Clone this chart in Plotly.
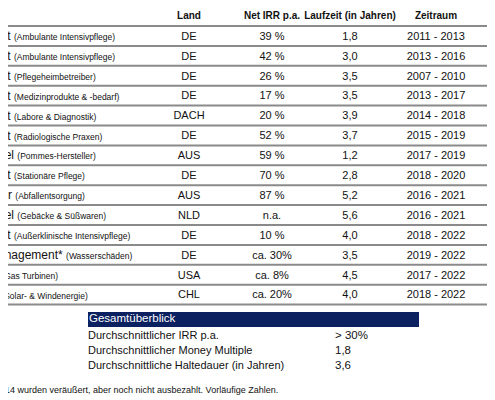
import plotly.graph_objects as go

# table data
names = ["eit", "eit", "eit", "eit", "eit", "eit", "ttel", "eit", "tur", "ttel",
         "eit", "anagement*", "", ""]
sectors = ["Ambulante Intensivpflege", "Ambulante Intensivpflege", "Pflegeheimbetreiber",
           "Medizinprodukte & -bedarf", "Labore & Diagnostik", "Radiologische Praxen",
           "Pommes-Hersteller", "Stationäre Pflege", "Abfallentsorgung",
           "Gebäcke & Süßwaren", "Außerklinische Intensivpflege", "Wasserschäden",
           "Gas Turbinen", "Solar- & Windenergie"]
land = ["DE", "DE", "DE", "DE", "DACH", "DE", "AUS", "DE", "AUS", "NLD", "DE", "DE", "USA", "CHL"]
irr = ["39 %", "42 %", "26 %", "17 %", "20 %", "52 %", "59 %", "70 %", "87 %", "n.a.",
       "10 %", "ca. 30%", "ca. 8%", "ca. 20%"]
laufzeit = ["1,8", "3,0", "3,5", "3,5", "3,9", "3,7", "1,2", "2,8", "5,2", "5,6",
            "4,0", "3,5", "4,5", "4,0"]
zeitraum = ["2011 - 2013", "2013 - 2016", "2007 - 2010", "2013 - 2017", "2014 - 2018",
            "2015 - 2019", "2017 - 2019", "2018 - 2020", "2016 - 2021", "2016 - 2021",
            "2018 - 2022", "2019 - 2022", "2017 - 2022", "2018 - 2022"]
headers = ["Land", "Net IRR p.a.", "Laufzeit (in Jahren)", "Zeitraum"]

summary_title = "Gesamtüberblick"
summary_labels = ["Durchschnittlicher IRR p.a.", "Durchschnittlicher Money Multiple",
                  "Durchschnittliche Haltedauer (in Jahren)"]
summary_values = ["> 30%", "1,8", "3,6"]
footnote = "s 14 wurden veräußert, aber noch nicht ausbezahlt. Vorläufige Zahlen."

FONT = "Liberation Sans"
OFF = 8  # page body margin
row_y = [37 + 19.9 * i for i in range(len(land))]
col_x = [189, 272, 350, 436]

fig = go.Figure()

first_col = []
for n, s in zip(names, sectors):
    lab = f"<span style='font-size:8.5px'>({s})</span>"
    first_col.append((n + " " + lab) if n else " " + lab)

fig.add_trace(go.Scatter(x=[-2] * len(row_y), y=row_y, mode="text", text=first_col,
                         textposition="middle right",
                         textfont=dict(family=FONT, size=12, color="#111")))
for cx, col in zip(col_x, [land, irr, laufzeit, zeitraum]):
    fig.add_trace(go.Scatter(x=[cx] * len(row_y), y=row_y, mode="text", text=col,
                             textposition="middle center",
                             textfont=dict(family=FONT, size=11, color="#111")))
fig.add_trace(go.Scatter(x=col_x, y=[16] * 4, mode="text",
                         text=[f"<b>{h}</b>" for h in headers],
                         textposition="middle center",
                         textfont=dict(family=FONT, size=10, color="#111")))

# row separators
for i in range(len(row_y) + 1):
    y = 26 + 19.9 * i
    fig.add_shape(type="line", x0=0, x1=500, y0=y, y1=y, layer="below",
                  line=dict(color="#8a8a8a", width=2))

# summary block
fig.add_shape(type="rect", x0=88, x1=419, y0=312, y1=327, layer="below",
              fillcolor="#0c2160", line=dict(width=0))
fig.add_trace(go.Scatter(x=[89], y=[319.5], mode="text", text=[summary_title],
                         textposition="middle right",
                         textfont=dict(family=FONT, size=11.5, color="white")))
sy = [336, 351, 366]
fig.add_trace(go.Scatter(x=[88] * 3, y=sy, mode="text", text=summary_labels,
                         textposition="middle right",
                         textfont=dict(family=FONT, size=11, color="#111")))
fig.add_trace(go.Scatter(x=[335] * 3, y=sy, mode="text", text=summary_values,
                         textposition="middle right",
                         textfont=dict(family=FONT, size=11.5, color="#111")))
fig.add_trace(go.Scatter(x=[-2], y=[391], mode="text", text=[footnote],
                         textposition="middle right",
                         textfont=dict(family=FONT, size=9, color="#111")))

fig.update_layout(width=495, height=400, margin=dict(l=0, r=0, t=0, b=0),
                  showlegend=False, plot_bgcolor="white", paper_bgcolor="white",
                  xaxis=dict(range=[OFF, 495 + OFF], visible=False, fixedrange=True),
                  yaxis=dict(range=[400 + OFF, OFF], visible=False, fixedrange=True))
fig.write_html("out.html", config={"displayModeBar": False})
